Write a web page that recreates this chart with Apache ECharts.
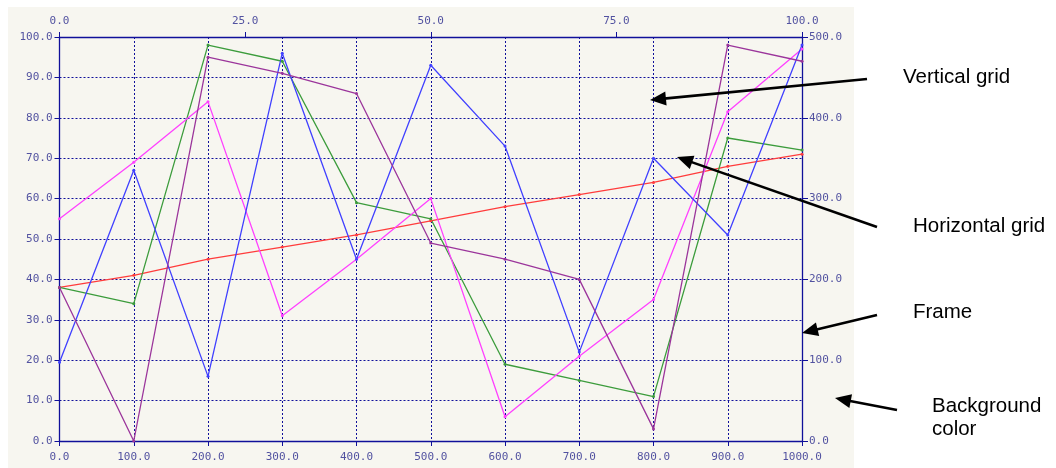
<!DOCTYPE html>
<html>
<head>
<meta charset="utf-8">
<script src="https://cdn.jsdelivr.net/npm/echarts@6/dist/echarts.min.js"></script>
<style>
  html, body { margin: 0; padding: 0; background: #ffffff; }
  #chart { width: 1056px; height: 468px; }
</style>
</head>
<body>
<div id="chart"></div>
<script>
// x positions shared by all series
var xValues = [0, 100, 200, 300, 400, 500, 600, 700, 800, 900, 1000];
// values read against the left axis (0..100)
var redValues     = [38, 41, 45, 48, 51, 54.5, 58, 61, 64, 68, 71];
var greenValues   = [38, 34, 98, 94, 59, 55, 19, 15, 11, 75, 72];
var magentaValues = [55, 69, 84, 31, 45, 60, 6, 21, 35, 81.5, 97];
var blueValues    = [19.5, 67, 16, 96, 45, 93, 73, 22, 70, 51, 98];
var purpleValues  = [38, 0, 95, 91, 86, 49, 45, 40, 3, 98, 94];

var seriesNames  = ['red', 'green', 'magenta', 'blue', 'purple'];
var seriesColors = ['#ff3c3c', '#3c9c3c', '#ff40ff', '#4040ff', '#9b359b'];

// axis ranges and tick steps
var bottomAxis = [0, 1000, 100];
var topAxis    = [0, 100, 25];
var leftAxis   = [0, 100, 10];
var rightAxis  = [0, 500, 100];

var navy = '#10109a';
var labelColor = '#5252a0';
var monoFont = 'DejaVu Sans Mono';

function pairs(ys) {
  var out = [];
  for (var i = 0; i < xValues.length; i++) {
    out.push([xValues[i], ys[i]]);
  }
  return out;
}

function fmt(v) { return v.toFixed(1); }

function axisCommon(range, pos, tickLen, margin) {
  return {
    type: 'value',
    position: pos,
    min: range[0],
    max: range[1],
    interval: range[2],
    axisLine: { show: true, onZero: false, lineStyle: { color: navy, width: 1.3 } },
    axisTick: { show: true, length: tickLen, lineStyle: { color: navy, width: 1 } },
    axisLabel: {
      color: labelColor, fontFamily: monoFont, fontSize: 11,
      margin: margin, formatter: fmt
    },
    splitLine: { show: false }
  };
}

// arrow annotation: line + filled head
function arrow(x1, y1, x2, y2) {
  var dx = x2 - x1, dy = y2 - y1;
  var len = Math.sqrt(dx * dx + dy * dy);
  var ux = dx / len, uy = dy / len;
  var hl = 16, hw = 7;
  var bx = x2 - ux * hl, by = y2 - uy * hl;
  return [
    {
      type: 'line', silent: true, z: 100,
      shape: { x1: x1, y1: y1, x2: bx + ux * 2, y2: by + uy * 2 },
      style: { stroke: '#000', lineWidth: 2.6 }
    },
    {
      type: 'polygon', silent: true, z: 100,
      shape: { points: [[x2, y2], [bx - uy * hw, by + ux * hw], [bx + uy * hw, by - ux * hw]] },
      style: { fill: '#000' }
    }
  ];
}

function note(text, x, y) {
  return {
    type: 'text', silent: true, z: 100, left: x, top: y,
    style: { text: text, fill: '#000', font: '20.5px "Liberation Sans", Arial, sans-serif', lineHeight: 23 }
  };
}

var myChart = echarts.init(document.getElementById('chart'));

var xBottom = axisCommon(bottomAxis, 'bottom', 5, 11);
xBottom.splitLine = { show: true, lineStyle: { color: navy, type: [2, 2], width: 1 } };
var xTop = axisCommon(topAxis, 'top', 5, 10);
var yLeft = axisCommon(leftAxis, 'left', 5, 7);
yLeft.splitLine = { show: true, lineStyle: { color: navy, type: [2, 2], width: 1 } };
var yRight = axisCommon(rightAxis, 'right', 6, 7);

var allValues = [redValues, greenValues, magentaValues, blueValues, purpleValues];
var series = [];
for (var i = 0; i < allValues.length; i++) {
  series.push({
    name: seriesNames[i],
    type: 'line',
    xAxisIndex: 0,
    yAxisIndex: 0,
    data: pairs(allValues[i]),
    symbol: 'circle',
    symbolSize: 3,
    showSymbol: true,
    animation: false,
    lineStyle: { color: seriesColors[i], width: 1.3 },
    itemStyle: { color: seriesColors[i] }
  });
}

var graphics = [
  {
    type: 'rect', silent: true, z: -10,
    shape: { x: 8, y: 7, width: 846, height: 461 },
    style: { fill: '#f7f6f0' }
  },
  note('Vertical grid', 903, 66),
  note('Horizontal grid', 913, 215),
  note('Frame', 913, 301),
  note('Background\ncolor', 932, 395)
];
graphics = graphics.concat(arrow(867, 79, 650, 100));
graphics = graphics.concat(arrow(877, 227, 677, 157));
graphics = graphics.concat(arrow(877, 315, 802, 333));
graphics = graphics.concat(arrow(897, 410, 835, 398));

myChart.setOption({
  animation: false,
  backgroundColor: '#ffffff',
  grid: { left: 59.5, right: 254, top: 37, bottom: 27, containLabel: false },
  xAxis: [xBottom, xTop],
  yAxis: [yLeft, yRight],
  series: series,
  graphic: graphics
});
</script>
</body>
</html>
